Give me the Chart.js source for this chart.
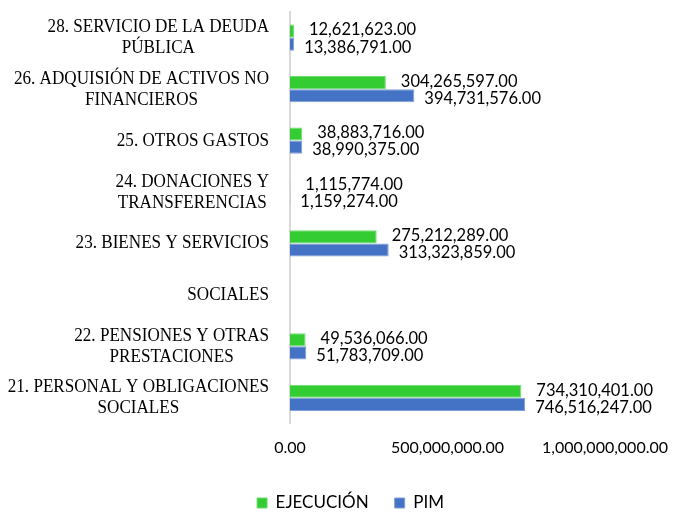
<!DOCTYPE html>
<html>
<head>
<meta charset="utf-8">
<style>
  html, body { margin: 0; padding: 0; background: #fff; }
  #wrap { width: 673px; height: 512px; }
</style>
</head>
<body>
  <div id="wrap">
    <canvas id="myChart"></canvas>
  </div>

<script src="https://cdn.jsdelivr.net/npm/chart.js@4.4.0/dist/chart.umd.min.js"></script>

<script>
  // each category is a list of lines, drawn centred on one another
  const categories = [
    ['28. SERVICIO DE LA DEUDA', 'PÚBLICA'],
    ['26. ADQUISIÓN DE ACTIVOS NO', 'FINANCIEROS'],
    ['25. OTROS GASTOS'],
    ['24. DONACIONES Y', 'TRANSFERENCIAS'],
    ['23. BIENES Y SERVICIOS'],
    ['SOCIALES'],
    ['22. PENSIONES Y OTRAS', 'PRESTACIONES'],
    ['21. PERSONAL Y OBLIGACIONES', 'SOCIALES']
  ]
  const ejecucion = [12621623, 304265597, 38883716, 1115774, 275212289, null, 49536066, 734310401]
  const pim = [13386791, 394731576, 38990375, 1159274, 313323859, null, 51783709, 746516247]
  const xMax = 1000000000
  const xStep = 500000000

  const money = v => v.toLocaleString('en-US', { minimumFractionDigits: 2, maximumFractionDigits: 2 })

  const categoryLabels = {
    id: 'categoryLabels',
    afterDraw(chart) {
      const ctx = chart.ctx
      const yScale = chart.scales.y
      const right = chart.chartArea.left - 21
      const squeeze = 0.9
      const lineH = 21
      ctx.save()
      ctx.font = '19px "Liberation Serif"'
      ctx.fillStyle = '#000'
      ctx.textAlign = 'center'
      ctx.textBaseline = 'middle'
      categories.forEach((lines, i) => {
        const yc = yScale.getPixelForValue(i)
        const w = Math.max(...lines.map(l => ctx.measureText(l).width)) * squeeze
        lines.forEach((line, j) => {
          ctx.save()
          ctx.translate(right - w / 2, yc + (j - (lines.length - 1) / 2) * lineH)
          ctx.scale(squeeze, 1)
          ctx.fillText(line, 0, 0)
          ctx.restore()
        })
      })
      ctx.restore()
    }
  }

  const valueLabels = {
    id: 'valueLabels',
    afterDatasetsDraw(chart) {
      const ctx = chart.ctx
      ctx.save()
      ctx.font = '16.5px Lato'
      ctx.fillStyle = '#000'
      ctx.textBaseline = 'middle'
      chart.data.datasets.forEach((ds, di) => {
        chart.getDatasetMeta(di).data.forEach((bar, i) => {
          const v = ds.data[i]
          if (v == null) return
          ctx.fillText(money(v), bar.x + ds.labelGap, bar.y + ds.labelShift)
        })
      })
      ctx.restore()
    }
  }

  new Chart(document.getElementById('myChart'), {
    type: 'bar',
    data: {
      labels: categories.map(c => c.join(' ')),
      datasets: [{
        label: 'EJECUCIÓN',
        data: ejecucion,
        backgroundColor: '#33cc33',
        borderColor: '#70dc70',
        borderWidth: 1,
        labelGap: 15,
        labelShift: -1
      }, {
        label: 'PIM',
        data: pim,
        backgroundColor: '#4472c4',
        borderColor: '#7f9fd8',
        borderWidth: 1,
        labelGap: 10,
        labelShift: 3
      }]
    },
    options: {
      indexAxis: 'y',
      responsive: true,
      maintainAspectRatio: false,
      animation: false,
      categoryPercentage: 0.51,
      barPercentage: 1,
      layout: { padding: { top: 12, right: 0, left: 28, bottom: -9.5 } },
      scales: {
        x: {
          min: 0,
          max: xMax,
          grid: { display: false, drawTicks: false },
          border: { display: false },
          ticks: {
            stepSize: xStep,
            padding: 15,
            color: '#000',
            font: { family: 'Lato', size: 16 },
            callback: v => money(v)
          },
          afterFit: scale => {
            scale.height = 45
            scale.paddingRight = 68
          }
        },
        y: {
          grid: { display: false },
          border: { color: '#d9d9d9', width: 2 },
          ticks: { display: false },
          afterFit: scale => { scale.width = 262 }
        }
      },
      plugins: {
        legend: {
          position: 'bottom',
          labels: {
            boxWidth: 10,
            boxHeight: 10,
            padding: 26,
            color: '#000',
            font: { family: 'Lato', size: 17 }
          }
        },
        tooltip: { enabled: false }
      }
    },
    plugins: [categoryLabels, valueLabels]
  })
</script>
</body>
</html>
